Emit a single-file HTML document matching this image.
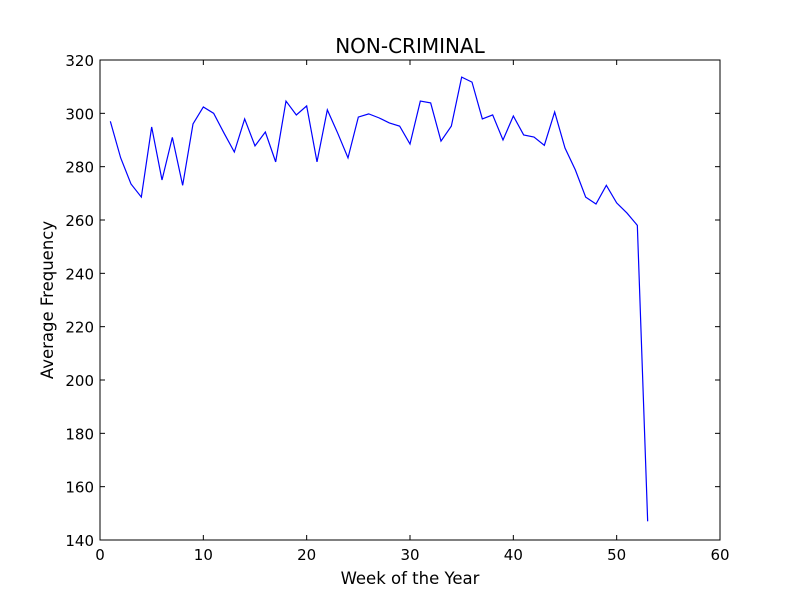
<!DOCTYPE html>
<html><head><meta charset="utf-8"><style>
body{margin:0;background:#fff;}
svg{display:block;font-family:"DejaVu Sans","Liberation Sans",sans-serif;}
</style></head><body>
<svg id="chart" width="800" height="600">
<rect width="800" height="600" fill="#fff"/>
<text x="410" y="53" text-anchor="middle" font-size="20">NON-CRIMINAL</text>
<g id="axes"></g>
<text x="410" y="584" text-anchor="middle" font-size="16.5">Week of the Year</text>
<text transform="translate(53,300) rotate(-90)" text-anchor="middle" font-size="16.5">Average Frequency</text>
</svg>
<script>
const weeks=[1,2,3,4,5,6,7,8,9,10,11,12,13,14,15,16,17,18,19,20,21,22,23,24,25,26,27,28,29,30,31,32,33,34,35,36,37,38,39,40,41,42,43,44,45,46,47,48,49,50,51,52,53];
const freqs=[297,283.3,273.5,268.6,294.9,275,291,273,296,302.4,300,292.6,285.5,297.9,287.8,293,281.8,304.6,299.4,302.8,281.8,301.3,292.6,283.3,298.6,299.8,298.3,296.4,295.2,288.5,304.6,303.9,289.6,295.2,313.6,311.7,297.9,299.4,290,299,291.9,291.1,288,300.5,287,278.8,268.6,266,273,266.4,262.6,258,147];
const xTicks=[0,10,20,30,40,50,60];
const yTicks=[140,160,180,200,220,240,260,280,300,320];
const L=100,R=720,T=60,B=540,xMin=0,xMax=60,yMin=140,yMax=320;
const sx=v=>L+(v-xMin)/(xMax-xMin)*(R-L);
const sy=v=>B-(v-yMin)/(yMax-yMin)*(B-T);
const NS="http://www.w3.org/2000/svg";
const g=document.getElementById('axes');
function mk(t,a){const e=document.createElementNS(NS,t);for(const k in a)e.setAttribute(k,a[k]);g.appendChild(e);return e;}
xTicks.forEach(v=>{
const x=sx(v);
const t1=mk('line',{x1:x,x2:x,y1:B,y2:B-5,stroke:'#000'});


const t2=mk('line',{x1:x,x2:x,y1:T,y2:T+5,stroke:'#000'});


const l=mk('text',{x:x,y:B+20,'text-anchor':'middle','font-size':15});
l.textContent=v;


});
yTicks.forEach(v=>{
const y=sy(v);
const t1=mk('line',{x1:L,x2:L+5,y1:y,y2:y,stroke:'#000'});


const t2=mk('line',{x1:R,x2:R-5,y1:y,y2:y,stroke:'#000'});


const l=mk('text',{x:L-6,y:y+6,'text-anchor':'end','font-size':15});
l.textContent=v;


});
const p=mk('polyline',{points:weeks.map((w,i)=>sx(w)+','+sy(freqs[i])).join(' '),fill:'none',stroke:'#0000ff','stroke-width':1.2});


const f=mk('rect',{x:L,y:T,width:R-L,height:B-T,fill:'none',stroke:'#000'});


</script>
</body></html>
